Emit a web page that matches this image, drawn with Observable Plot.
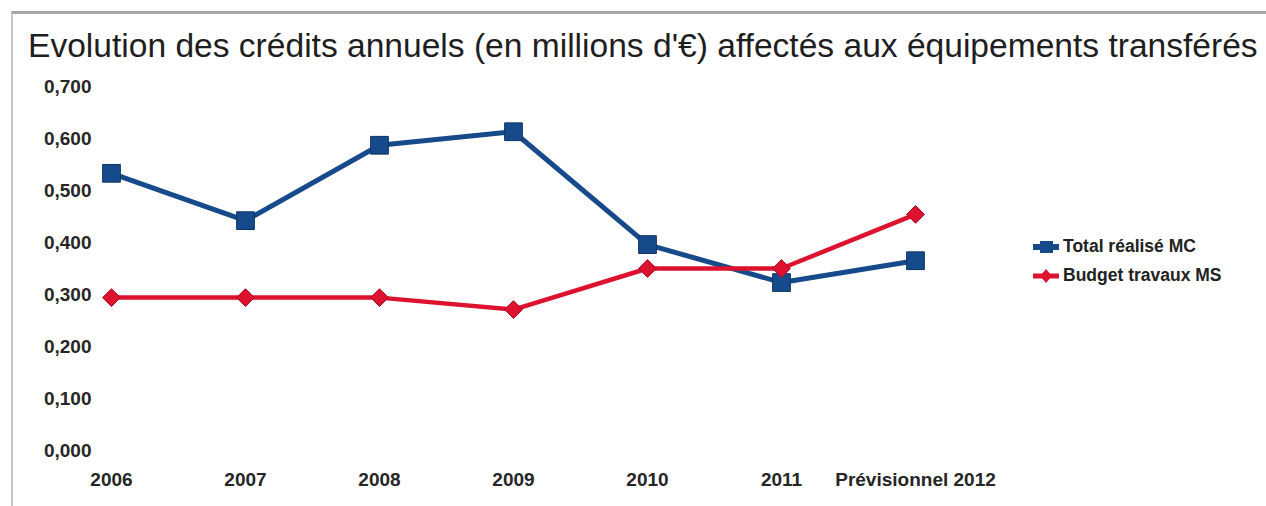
<!DOCTYPE html>
<html><head><meta charset="utf-8">
<script src="https://cdn.jsdelivr.net/npm/d3@7"></script>
<script src="https://cdn.jsdelivr.net/npm/@observablehq/plot@0.6"></script>
<style>
body{margin:0;background:#fff;font-family:"Liberation Sans",Arial,sans-serif;width:1266px;height:506px;overflow:hidden;position:relative}
#frame{position:absolute;left:11px;top:11px;right:-5px;bottom:-5px;border-top:3px solid #a8a8a8;border-left:2px solid #c4c4c4}
#title{position:absolute;left:28px;top:26px;font-size:34px;color:#1e1e1e;white-space:nowrap;transform-origin:0 0}
#chart{position:absolute;left:0;top:70px}
#legend{position:absolute;left:1031px;top:232px;font-size:17.5px;font-weight:bold;color:#222}
#legend div{display:flex;align-items:center;height:29px;white-space:nowrap}
#legend svg{margin-right:2px}
</style>
</head><body>
<div id="frame"></div>
<div id="title">Evolution des crédits annuels (en millions d'€) affectés aux équipements transférés</div>
<div id="chart"></div>
<div id="legend"></div>
<script>
const years = ["2006","2007","2008","2009","2010","2011","Prévisionnel 2012"];
const seriesNames = ["Total réalisé MC","Budget travaux MS"];
const totalRealise = [0.533,0.442,0.587,0.613,0.396,0.323,0.365];
const budgetTravaux = [0.294,0.294,0.294,0.271,0.350,0.350,0.454];
const yTicks = [0,0.1,0.2,0.3,0.4,0.5,0.6,0.7];
const colors = ["#174a8a","#dc122e"];

const rows = [];
years.forEach((y,i)=>rows.push({year:y, value: totalRealise[i], series: seriesNames[0]}));
years.forEach((y,i)=>rows.push({year:y, value: budgetTravaux[i], series: seriesNames[1]}));
const blue = rows.filter(d=>d.series===seriesNames[0]);
const red = rows.filter(d=>d.series===seriesNames[1]);

const fmt = v => d3.format(".3f")(v).replace(".", ",");

const chart = Plot.plot({
  width: 1010,
  height: 436,
  marginLeft: 108,
  marginRight: 93,
  marginTop: 16,
  marginBottom: 56,
  style: {fontFamily: "Liberation Sans, Arial, sans-serif", fontSize: "19px", fontWeight: "bold", color: "#262626", background: "transparent"},
  x: {type: "point", domain: years, padding: 0},
  y: {domain: [0, 0.7]},
  color: {domain: seriesNames, range: colors},
  marks: [
    Plot.axisY({ticks: yTicks, tickFormat: fmt, tickSize: 0, tickPadding: 17, label: null}),
    Plot.axisX({tickSize: 0, tickPadding: 22, label: null}),
    Plot.line(blue, {x: "year", y: "value", stroke: "series", strokeWidth: 5}),
    Plot.dot(blue, {x: "year", y: "value", fill: "series", symbol: "square", r: 10, stroke: "#0d3366", strokeWidth: 1}),
    Plot.line(red, {x: "year", y: "value", stroke: "series", strokeWidth: 4.5}),
    Plot.dot(red, {x: "year", y: "value", fill: "series", symbol: "diamond2", r: 8, stroke: "#b00a20", strokeWidth: 1})
  ]
});
document.getElementById("chart").appendChild(chart);

// legend
const leg = document.getElementById("legend");
seriesNames.forEach((name,i)=>{
  const row = document.createElement("div");
  const marker = i===0
    ? `<rect x="9" y="6" width="13" height="12" fill="${colors[i]}"/>`
    : `<path d="M15 5 L21 12 L15 19 L9 12 Z" fill="${colors[i]}"/>`;
  row.innerHTML = `<svg width="30" height="24"><line x1="2" x2="28" y1="12" y2="12" stroke="${colors[i]}" stroke-width="${i===0?6:5}"/>${marker}</svg><span>${name}</span>`;
  leg.appendChild(row);
});

// fit title width
const t = document.getElementById("title");
const w = t.scrollWidth;
t.style.transform = `scaleX(${1230 / w})`;
</script>
</body></html>
